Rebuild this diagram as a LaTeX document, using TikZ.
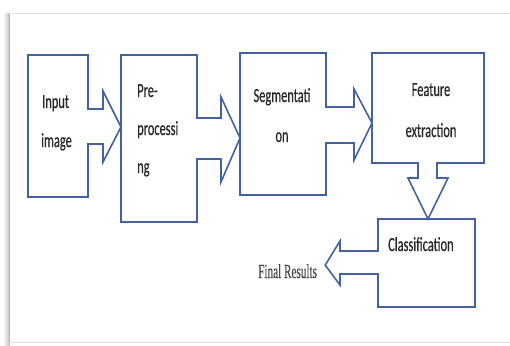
\documentclass[tikz,border=0pt]{standalone}
\usepackage{fontspec}
\newfontfamily\cfont[FakeBold=0.7]{Carlito}
\newfontfamily\sfontx[FakeBold=0.5]{Liberation Serif}
\usetikzlibrary{calc}
\definecolor{bl}{RGB}{68,98,160}
\definecolor{txt}{RGB}{40,40,40}
\newcommand\narrowC[1]{\scalebox{0.62}[1]{#1}}
\newcommand\narrowS[1]{\scalebox{0.56}[1]{#1}}
\begin{document}
\begin{tikzpicture}[x=1pt,y=-1pt,
  box/.style={draw=bl, line width=1.6pt, fill=white, inner sep=0pt, outer sep=0pt, anchor=north west},
  barrow/.style={draw=bl, line width=1.6pt, fill=white, line join=miter},
  lbl/.style={font=\cfont\fontsize{20}{24}\selectfont, text=txt, inner sep=0pt},
  flbl/.style={font=\sfontx\fontsize{20}{24}\selectfont, text=txt!85, inner sep=0pt}]
\useasboundingbox (0,0) rectangle (510,345);
% frame with shadow
\shade[left color=white, right color=gray!45] (3,14) rectangle (9,345);
\draw[gray!60, line width=1.2pt] (9.5,14) -- (9.5,345);
\draw[gray!22, line width=1pt] (9,14) -- (510,14);
\draw[gray!25, line width=1pt] (9,342.5) -- (510,342.5);
% boxes
\node[box, minimum width=60pt, minimum height=142pt] (b1) at (28,55) {};
\node[box, minimum width=76pt, minimum height=167pt] (b2) at (121,55) {};
\node[box, minimum width=86pt, minimum height=142pt] (b3) at (240,53) {};
\node[box, minimum width=112pt, minimum height=110pt] (b4) at (372,53) {};
\node[box, minimum width=97pt, minimum height=88pt] (b5) at (378,219) {};
% labels
\node[lbl, anchor=base west] (t1a) at (42,108) {\narrowC{Input}};
\node[lbl, anchor=base west] (t1b) at (41,147) {\narrowC{image}};
\node[lbl, anchor=base west] (t2a) at (137,97) {\narrowC{Pre-}};
\node[lbl, anchor=base west] (t2b) at (137,135) {\narrowC{processi}};
\node[lbl, anchor=base west] (t2c) at (137,173) {\narrowC{ng}};
\node[lbl, anchor=base] (t3a) at (282,102) {\narrowC{Segmentati}};
\node[lbl, anchor=base] (t3b) at (282,142) {\narrowC{on}};
\node[lbl, anchor=base] (t4a) at (431,96) {\narrowC{Feature}};
\node[lbl, anchor=base] (t4b) at (431,137) {\narrowC{extraction}};
\node[lbl, anchor=base west] (t5) at (388,251) {\narrowC{Classification}};
\node[flbl, anchor=base west] (fr) at (258,278) {\narrowS{Final Results}};
% block arrows
\path[barrow] ($(b1.east)+(-0.8,-17)$) -- ($(b1.east)+(15,-17)$) -- ($(b1.east)+(15,-35)$)
  -- ($(b2.west)+(0,-11.5)$) -- ($(b1.east)+(15,36)$) -- ($(b1.east)+(15,18)$) -- ($(b1.east)+(-0.8,18)$);
\path[barrow] ($(b2.east)+(-0.8,-20.5)$) -- ($(b2.east)+(24,-20.5)$) -- ($(b2.east)+(24,-41.5)$)
  -- ($(b3.west)+(0,14)$) -- ($(b2.east)+(24,43.5)$) -- ($(b2.east)+(24,20.5)$) -- ($(b2.east)+(-0.8,20.5)$);
\path[barrow] ($(b3.east)+(-0.8,-17)$) -- ($(b3.east)+(28,-17)$) -- ($(b3.east)+(28,-35)$)
  -- ($(b4.west)+(0,15)$) -- ($(b3.east)+(28,36)$) -- ($(b3.east)+(28,19)$) -- ($(b3.east)+(-0.8,19)$);
\path[barrow] ($(b4.south)+(-10,-0.8)$) -- ($(b4.south)+(-10,15)$) -- ($(b4.south)+(-20,15)$)
  -- ($(b5.north)+(1.5,0)$) -- ($(b4.south)+(20,15)$) -- ($(b4.south)+(9,15)$) -- ($(b4.south)+(9,-0.8)$);
\coordinate (ftip) at ($(fr.east)+(8,-6)$);
\path[barrow] ($(b5.west)+(0.8,-12)$) -- ($(b5.west)+(-38,-12)$) -- ($(b5.west)+(-38,-22)$)
  -- (ftip) -- ($(b5.west)+(-38,22)$) -- ($(b5.west)+(-38,11)$) -- ($(b5.west)+(0.8,11)$);
\end{tikzpicture}
\end{document}
